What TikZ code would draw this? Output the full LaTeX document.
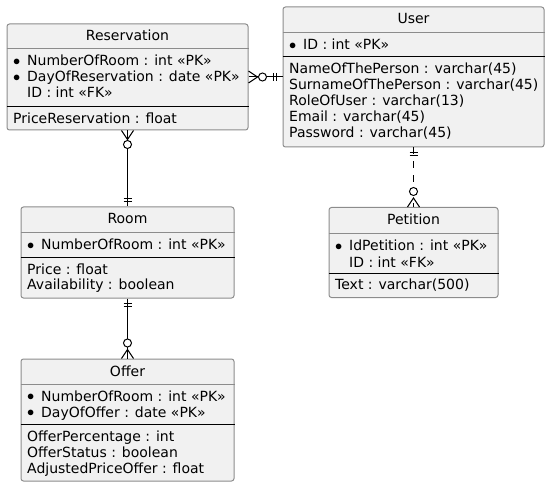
\documentclass[tikz,border=0pt]{standalone}
\usepackage{fontspec}
\setmainfont{DejaVu Sans}
\usetikzlibrary{positioning, calc}
\definecolor{entfill}{HTML}{F1F1F1}
\definecolor{entline}{HTML}{8C8C8C}
\newcommand{\pk}{\makebox[14pt][l]{\raisebox{0.5pt}{$\bullet$}}}
\newcommand{\keyskip}{\hspace*{14pt}}

\begin{document}
\begin{tikzpicture}[
  x=1pt, y=-1pt,
  font=\fontsize{14}{16}\selectfont,
  entity/.style={draw=entline, fill=entfill, line width=1pt, rounded corners=2.5pt, inner sep=0pt},
  ttl/.style={anchor=base, inner sep=0pt},
  attr/.style={anchor=base west, inner sep=0pt},
  hdrline/.style={draw=entline, line width=1pt},
  keyline/.style={draw=black, line width=1pt},
  rel/.style={draw=black, line width=1pt}
]
\useasboundingbox (0,0) rectangle (550,487);
% entity boxes
\node[entity, minimum width=241pt, minimum height=106pt] (res) at (127.5,77) {};
\node[entity, minimum width=261pt, minimum height=140pt] (user) at (413.5,77) {};
\node[entity, minimum width=213pt, minimum height=91pt] (room) at (127.5,252.5) {};
\node[entity, minimum width=169pt, minimum height=90pt] (pet) at (413.5,252.5) {};
\node[entity, minimum width=213pt, minimum height=122pt] (offer) at (127.5,420) {};
% Reservation
\node[ttl] (res-t) at (res.center |- 0,41) {Reservation};
\draw[hdrline] (res.west |- 0,49) -- (res.east |- 0,49);
\node[attr] (res-1) at (13,66) {\pk NumberOfRoom : int «PK»};
\node[attr] (res-2) at (13,82) {\pk DayOfReservation : date «PK»};
\node[attr] (res-3) at (13,98) {\keyskip ID : int «FK»};
\draw[keyline] (res.west |- 0,107) -- (res.east |- 0,107);
\node[attr] (res-4) at (13,124) {PriceReservation : float};
% User
\node[ttl] (user-t) at (user.center |- 0,24) {User};
\draw[hdrline] (user.west |- 0,33) -- (user.east |- 0,33);
\node[attr] (user-1) at (289,50) {\pk ID : int «PK»};
\draw[keyline] (user.west |- 0,57) -- (user.east |- 0,57);
\node[attr] (user-2) at (289,74) {NameOfThePerson : varchar(45)};
\node[attr] (user-3) at (289,90) {SurnameOfThePerson : varchar(45)};
\node[attr] (user-4) at (289,106) {RoleOfUser : varchar(13)};
\node[attr] (user-5) at (289,122) {Email : varchar(45)};
\node[attr] (user-6) at (289,138) {Password : varchar(45)};
% Room
\node[ttl] (room-t) at (room.center |- 0,224) {Room};
\draw[hdrline] (room.west |- 0,233) -- (room.east |- 0,233);
\node[attr] (room-1) at (27,250) {\pk NumberOfRoom : int «PK»};
\draw[keyline] (room.west |- 0,257) -- (room.east |- 0,257);
\node[attr] (room-2) at (27,274) {Price : float};
\node[attr] (room-3) at (27,290) {Availability : boolean};
% Petition
\node[ttl] (pet-t) at (pet.center |- 0,225) {Petition};
\draw[hdrline] (pet.west |- 0,234) -- (pet.east |- 0,234);
\node[attr] (pet-1) at (335,251) {\pk IdPetition : int «PK»};
\node[attr] (pet-2) at (335,267) {\keyskip ID : int «FK»};
\draw[keyline] (pet.west |- 0,273) -- (pet.east |- 0,273);
\node[attr] (pet-3) at (335,290) {Text : varchar(500)};
% Offer
\node[ttl] (offer-t) at (offer.center |- 0,376) {Offer};
\draw[hdrline] (offer.west |- 0,384) -- (offer.east |- 0,384);
\node[attr] (offer-1) at (27,401) {\pk NumberOfRoom : int «PK»};
\node[attr] (offer-2) at (27,417) {\pk DayOfOffer : date «PK»};
\draw[keyline] (offer.west |- 0,424) -- (offer.east |- 0,424);
\node[attr] (offer-3) at (27,441) {OfferPercentage : int};
\node[attr] (offer-4) at (27,457) {OfferStatus : boolean};
\node[attr] (offer-5) at (27,473) {AdjustedPriceOffer : float};
% Reservation }o--|| User
\draw[rel] (res.east) -- (user.west);
\draw[rel] ($(res.east)+(0,-6)$) -- ($(res.east)+(9,0)$) -- ($(res.east)+(0,6)$);
\draw[rel, fill=white] ($(res.east)+(14,0)$) circle (4pt);
\draw[rel] ($(user.west)+(-9,-4)$) -- ++(0,8) ($(user.west)+(-6,-4)$) -- ++(0,8);
% Reservation }o--|| Room
\draw[rel] (res.south) -- (room.north);
\draw[rel] ($(res.south)+(-6,0)$) -- ($(res.south)+(0,9)$) -- ($(res.south)+(6,0)$);
\draw[rel, fill=white] ($(res.south)+(0,14)$) circle (4pt);
\draw[rel] ($(room.north)+(-4,-8)$) -- ++(8,0) ($(room.north)+(-4,-5)$) -- ++(8,0);
% Room ||--o{ Offer
\draw[rel] (room.south) -- (offer.north);
\draw[rel] ($(room.south)+(-4,5)$) -- ++(8,0) ($(room.south)+(-4,8)$) -- ++(8,0);
\draw[rel, fill=white] ($(offer.north)+(0,-15.5)$) circle (4pt);
\draw[rel] ($(offer.north)+(-6,0)$) -- ($(offer.north)+(0,-9)$) -- ($(offer.north)+(6,0)$);
% User ||..o{ Petition
\draw[rel, dash pattern=on 7pt off 7pt] (user.south) -- (pet.north);
\draw[rel] ($(user.south)+(-4,5)$) -- ++(8,0) ($(user.south)+(-4,8)$) -- ++(8,0);
\draw[rel, fill=white] ($(pet.north)+(0,-15.5)$) circle (4pt);
\draw[rel] ($(pet.north)+(-6,0)$) -- ($(pet.north)+(0,-9)$) -- ($(pet.north)+(6,0)$);
\end{tikzpicture}
\end{document}
